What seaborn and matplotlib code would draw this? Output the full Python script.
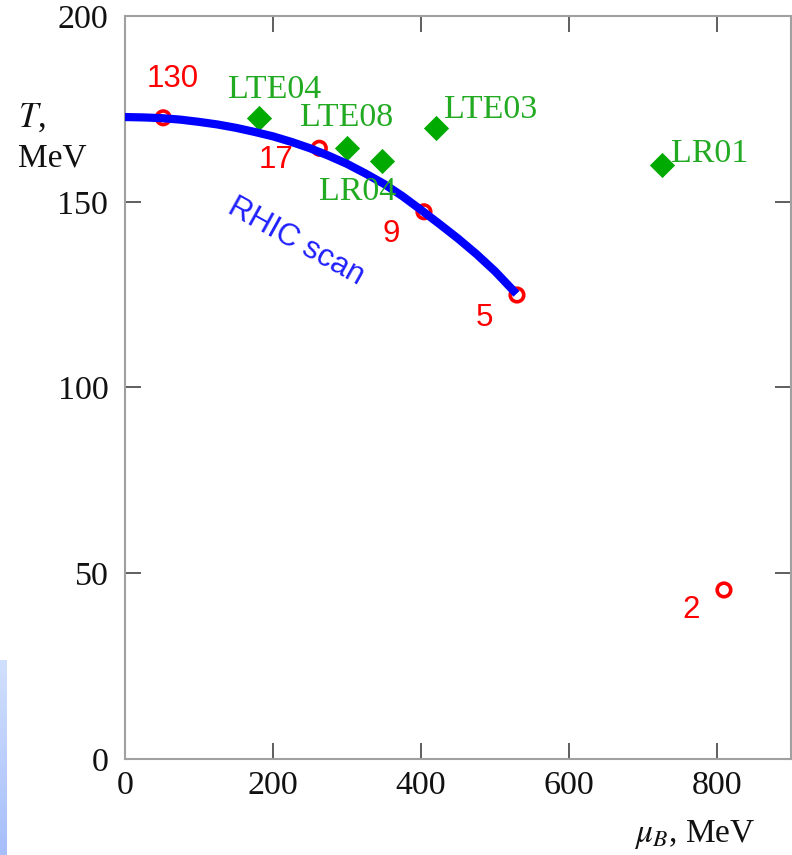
import numpy as np
import pandas as pd
import matplotlib
matplotlib.use("Agg")
import matplotlib.pyplot as plt
import seaborn as sns

# ---- data ----
curve_mu = [0, 25, 50, 75, 100, 125, 150, 175, 200, 225, 250, 275, 300,
            325, 350, 375, 400, 425, 450, 475, 500, 529]
curve_T = [172.8, 172.7, 172.5, 172.1, 171.5, 170.8, 169.9, 168.8, 167.6,
           166.1, 164.4, 162.4, 160.2, 157.6, 154.8, 151.5, 147.8, 144.0,
           140.1, 135.9, 131.3, 125.2]

rhic_mu = [51.6, 262.6, 404.0, 529.7, 809.4]
rhic_T = [172.6, 164.4, 147.3, 124.9, 45.5]
rhic_labels = ["130", "17", "9", "5", "2"]

exp_mu = [180.9, 299.4, 347.9, 420.6, 725.9]
exp_T = [172.5, 164.6, 161.0, 169.8, 159.9]
exp_labels = ["LTE04", "LTE08", "LR04", "LTE03", "LR01"]

x_ticks = [0, 200, 400, 600, 800]
y_ticks = [0, 50, 100, 150, 200]

# label offsets (pixels) — layout only
rhic_off = [(10, 31), (-43, -20), (-33, -30), (-33, -31), (-33, -28)]
exp_off = [(16, 20), (0, 22), (-25, -39), (54, 10), (47, 3)]

sns.set_theme(style="ticks")
plt.rcParams["font.family"] = ["Liberation Serif", "DejaVu Serif"]
plt.rcParams["mathtext.fontset"] = "stix"

fig = plt.figure(figsize=(7.92, 8.55), dpi=100)
ax = fig.add_axes([125 / 792, 1 - 759 / 855, (791 - 125) / 792, (759 - 16) / 855])

RED = "#ff0000"
GREEN = "#00aa00"
GREEN_T = "#22aa22"
BLUE = "#0000ff"

# RHIC points (open circles)
sns.scatterplot(x=rhic_mu, y=rhic_T, ax=ax, marker="o", s=95, color=RED,
                edgecolor=RED, linewidth=2.6, zorder=3, legend=False)
ax.collections[-1].set_facecolor("none")

# experiment points (diamonds)
sns.scatterplot(x=exp_mu, y=exp_T, ax=ax, marker="D", s=165, color=GREEN,
                linewidth=0, zorder=3, legend=False)

# RHIC scan curve
df_curve = pd.DataFrame({"mu": curve_mu, "T": curve_T})
sns.lineplot(data=df_curve, x="mu", y="T", ax=ax, color=BLUE, lw=5.9,
             sort=False, zorder=4, solid_capstyle="butt",
             solid_joinstyle="round")

for xm, yt, lab, off in zip(rhic_mu, rhic_T, rhic_labels, rhic_off):
    ax.annotate(lab, (xm, yt), xytext=off, textcoords="offset pixels",
                ha="center", va="baseline", color=RED, fontsize=22.5,
                family=["Liberation Sans", "DejaVu Sans"], zorder=5)

for xm, yt, lab, off in zip(exp_mu, exp_T, exp_labels, exp_off):
    ax.annotate(lab, (xm, yt), xytext=off, textcoords="offset pixels",
                ha="center", va="baseline", color=GREEN_T, fontsize=24.5,
                zorder=5)

ax.text(231.6, 139.2, "RHIC scan", rotation=-29, rotation_mode="anchor",
        ha="center", va="center", color="#2020ff", fontsize=22.5,
        family=["Liberation Sans", "DejaVu Sans"])

ax.set_xlim(0, 900)
ax.set_ylim(0, 200)
ax.set_xticks(x_ticks)
ax.set_yticks(y_ticks)
ax.set_xlabel("")
ax.set_ylabel("")

for s in ax.spines.values():
    s.set_visible(True)
    s.set_color("#a0a0a0")
    s.set_linewidth(1.5)

ax.tick_params(axis="both", which="major", direction="in", length=11.5,
               width=1.1, color="#333333", labelsize=24.5, labelcolor="#111111",
               top=True, right=True)
ax.tick_params(axis="y", pad=12)
ax.tick_params(axis="x", pad=8.5)

# axis titles
fig.text(18 / 792, 1 - 118 / 855, r"$T$,", fontsize=25, ha="left", va="center",
         color="#111111")
fig.text(18 / 792, 1 - 158 / 855, "MeV", fontsize=24, ha="left", va="center",
         color="#111111")
fig.text(755 / 792, 1 - 834 / 855, r"$\mu_B$, MeV", fontsize=24, ha="right",
         va="center", color="#111111")

# slide artifact at bottom-left edge
gax = fig.add_axes([0, 0, 7 / 792, (855 - 660) / 855])
grad = np.linspace(0, 1, 100).reshape(-1, 1)
cmap = matplotlib.colors.LinearSegmentedColormap.from_list("g", ["#d2e0ff", "#a6befa"])
gax.imshow(grad, aspect="auto", cmap=cmap, origin="upper")
gax.axis("off")

fig.savefig("out.png", dpi=100)
